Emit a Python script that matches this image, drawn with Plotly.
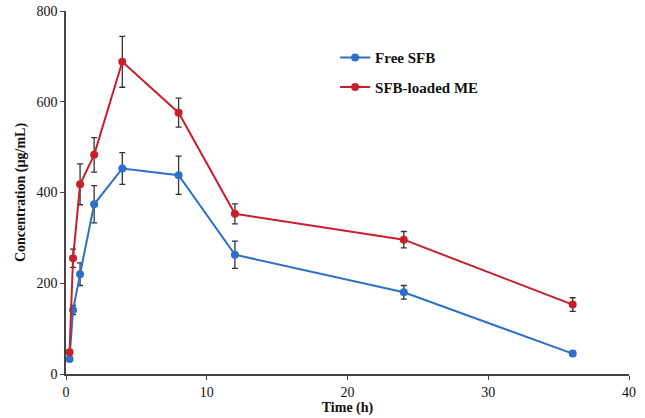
import plotly.graph_objects as go

time_h = [0.25, 0.5, 1, 2, 4, 8, 12, 24, 36]
free_sfb = [33, 141, 220, 374, 453, 438, 263, 180, 45]
free_sfb_err = [4, 10, 25, 41, 35, 42, 30, 15, 5]
me_sfb = [48, 255, 418, 483, 688, 576, 353, 296, 153]
me_sfb_err = [5, 20, 45, 38, 56, 32, 22, 18, 15]

font_family = "Liberation Serif, Times New Roman, serif"

fig = go.Figure()
fig.add_trace(go.Scatter(
    x=time_h, y=free_sfb, name="Free SFB", mode="lines+markers", legendgroup="a",
    line=dict(color="#2E6FC8", width=2),
    marker=dict(size=8, color="#2E6FC8"),
    error_y=dict(type="data", array=free_sfb_err, color="#333333", thickness=1.3, width=3),
))
fig.add_trace(go.Scatter(
    x=time_h, y=me_sfb, name="SFB-loaded ME", mode="lines+markers", legendgroup="b",
    line=dict(color="#C8202A", width=2),
    marker=dict(size=8, color="#C8202A"),
    error_y=dict(type="data", array=me_sfb_err, color="#333333", thickness=1.3, width=3),
))

fig.update_layout(
    width=645, height=418,
    margin=dict(l=66, r=16, t=11, b=44, autoexpand=False),
    paper_bgcolor="white", plot_bgcolor="white",
    font=dict(family=font_family, size=14, color="#111111"),
    legend=dict(x=0.478, y=0.917, xanchor="left", yanchor="top",
                font=dict(family=font_family, size=15, color="#111111", weight="bold"),
                bgcolor="rgba(0,0,0,0)", tracegroupgap=7, itemwidth=30),
    showlegend=True,
)
fig.update_xaxes(
    range=[0, 40], tickvals=[0, 10, 20, 30, 40],
    showline=True, linecolor="#444444", linewidth=1.5,
    ticks="outside", ticklen=4, tickcolor="#444444",
    showgrid=False, zeroline=False, automargin=False, ticklabeloverflow="allow",
    title=dict(text="<b>Time (h)</b>", standoff=0, font=dict(size=14)),
)
fig.update_yaxes(
    range=[0, 800], tickvals=[0, 200, 400, 600, 800],
    showline=True, linecolor="#444444", linewidth=1.5,
    ticks="outside", ticklen=4, tickcolor="#444444",
    showgrid=False, zeroline=False, automargin=False, ticklabeloverflow="allow",
    title=dict(text="<b>Concentration (µg/mL)</b>", standoff=8, font=dict(size=14)),
)

fig.write_html("out.html", config={"displayModeBar": False},
               post_script="document.body.style.margin='0';")
